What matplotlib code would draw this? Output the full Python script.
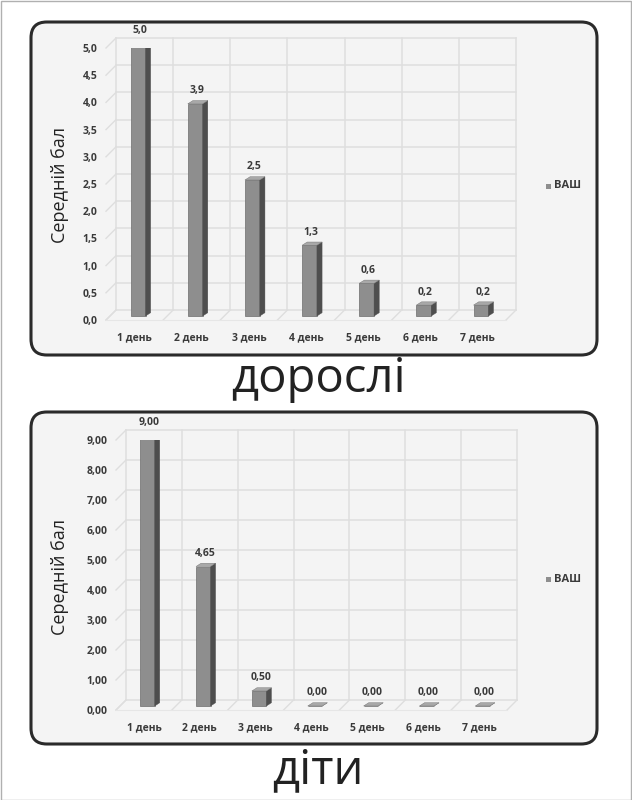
import matplotlib
matplotlib.use("Agg")
import matplotlib.pyplot as plt
from matplotlib.patches import FancyBboxPatch, Polygon, Rectangle
from matplotlib.transforms import ScaledTranslation

categories = ["1 день", "2 день", "3 день", "4 день", "5 день", "6 день", "7 день"]
adults = [5.0, 3.9, 2.5, 1.3, 0.6, 0.2, 0.2]
children = [9.00, 4.65, 0.50, 0.00, 0.00, 0.00, 0.00]
adult_ticks = [0.0, 0.5, 1.0, 1.5, 2.0, 2.5, 3.0, 3.5, 4.0, 4.5, 5.0]
child_ticks = [0, 1, 2, 3, 4, 5, 6, 7, 8, 9]
series_name = "ВАШ"
titles = ["дорослі", "діти"]
ylabel = "Середній бал"

plt.rcParams['font.family'] = ['Open Sans', 'DejaVu Sans']

fig = plt.figure(figsize=(6.32, 8.0), dpi=100)
W, H = 632, 800

# outer frame
fig.patches.append(Rectangle((0.5 / W, 0), 1 - 1.5 / W, 1 - 0.5 / H, transform=fig.transFigure,
                             fill=False, edgecolor="#b0b0b0", linewidth=1, zorder=-2))


def px(x0, y0, x1, y1):
    return [x0 / W, 1 - y1 / H, (x1 - x0) / W, (y1 - y0) / H]


def panel(y0, y1):
    box = FancyBboxPatch((31 / W, 1 - y1 / H), (597 - 31) / W, (y1 - y0) / H,
                         boxstyle="round,pad=0,rounding_size=0.025",
                         transform=fig.transFigure, facecolor="#f4f4f4",
                         edgecolor="#2a2a2a", linewidth=2.2, mutation_aspect=W / H, zorder=-1)
    fig.patches.append(box)


GRID = "#dedede"


def draw_chart(rect, vals, ticks, ymax, fmt, legend_y):
    ax = fig.add_axes(rect)
    ax.set_zorder(2)
    ax.set_facecolor("none")
    n = len(vals)
    x = list(range(1, n + 1))
    ax.set_xlim(0.5, n + 0.5)
    ax.set_ylim(0, ymax)
    back = ax.transData + ScaledTranslation(0.10, 0.10, fig.dpi_scale_trans)
    mid = ax.transData + ScaledTranslation(0.035, 0.04, fig.dpi_scale_trans)
    bounds = [i + 0.5 for i in range(0, n + 1)]
    # back wall
    for t in ticks:
        ax.plot([0.5, n + 0.5], [t, t], color=GRID, lw=1.1, transform=back, zorder=0, clip_on=False)
    for b in bounds:
        ax.plot([b, b], [0, ymax], color=GRID, lw=1.1, transform=back, zorder=0, clip_on=False)
    # left wall and floor slants
    off = 0.10 * ymax / (rect[3] * H / 100)  # data units for 10px vertical
    offx = 0.10 * n / (rect[2] * W / 100)
    for t in ticks:
        ax.plot([0.5, 0.5 + offx], [t, t + off], color=GRID, lw=1.0, zorder=0, clip_on=False)
    for b in bounds:
        ax.plot([b, b + offx], [0, off], color=GRID, lw=1.0, zorder=0, clip_on=False)
    ax.plot([0.5, n + 0.5], [0, 0], color="#e6e6e6", lw=0.8, zorder=0, clip_on=False)

    bw = 0.26
    dx = 0.09
    dy = ymax * 0.012
    ax.bar(x, vals, width=bw, color="#8e8e8e", edgecolor="#6e6e6e", linewidth=0.5, zorder=3,
           transform=mid)
    for xi, v in zip(x, vals):
        r = xi + bw / 2
        l = xi - bw / 2
        side = Polygon([(r, 0), (r + dx, dy), (r + dx, v + dy), (r, v)], closed=True,
                       facecolor="#4e4e4e", edgecolor="#4e4e4e", linewidth=0.3, zorder=3,
                       transform=mid)
        top = Polygon([(l, v), (l + dx, v + dy), (r + dx, v + dy), (r, v)], closed=True,
                      facecolor="#a8a8a8", edgecolor="#707070", linewidth=0.3, zorder=4,
                      transform=mid)
        ax.add_patch(side)
        ax.add_patch(top)
        ax.text(xi + 0.03, v + ymax * 0.028, fmt.format(v).replace(".", ","), ha="center", va="bottom",
                fontsize=7.5, fontweight="bold", color="#3a3a3a", transform=mid)
    ax.set_yticks(ticks)
    ax.set_yticklabels([fmt.format(t).replace(".", ",") for t in ticks])
    ax.set_xticks(x)
    ax.set_xticklabels(categories)
    ax.tick_params(axis="both", length=0, labelsize=7.5, colors="#3a3a3a")
    ax.tick_params(axis="x", pad=9)
    ax.tick_params(axis="y", pad=6)
    for lab in ax.get_xticklabels() + ax.get_yticklabels():
        lab.set_fontweight("bold")
    for s in ax.spines.values():
        s.set_visible(False)
    # legend
    fig.patches.append(Rectangle((546 / W, 1 - (legend_y + 3) / H), 5 / W, 5 / H,
                                 transform=fig.transFigure, facecolor="#8e8e8e", edgecolor="none"))
    fig.text(554 / W, 1 - legend_y / H, series_name, fontsize=8, fontweight="bold",
             color="#3a3a3a", va="center", ha="left")
    return ax


panel(22, 355)
panel(412, 744)

ax1 = draw_chart(px(106, 48, 506, 320), adults, adult_ticks, 5.0, "{:.1f}", 186)
ax2 = draw_chart(px(116, 440, 507, 710), children, child_ticks, 9.0, "{:.2f}", 579)

fig.text(60 / W, 1 - 185 / H, ylabel, rotation=90, fontsize=13, ha="center", va="center", color="#222222")
fig.text(60 / W, 1 - 577 / H, ylabel, rotation=90, fontsize=13, ha="center", va="center", color="#222222")

fig.text(318 / W, 1 - 379 / H, titles[0], fontsize=34, ha="center", va="center", color="#222222")
fig.text(318 / W, 1 - 770 / H, titles[1], fontsize=34, ha="center", va="center", color="#222222")

fig.savefig("out.png", dpi=100, facecolor="white")
